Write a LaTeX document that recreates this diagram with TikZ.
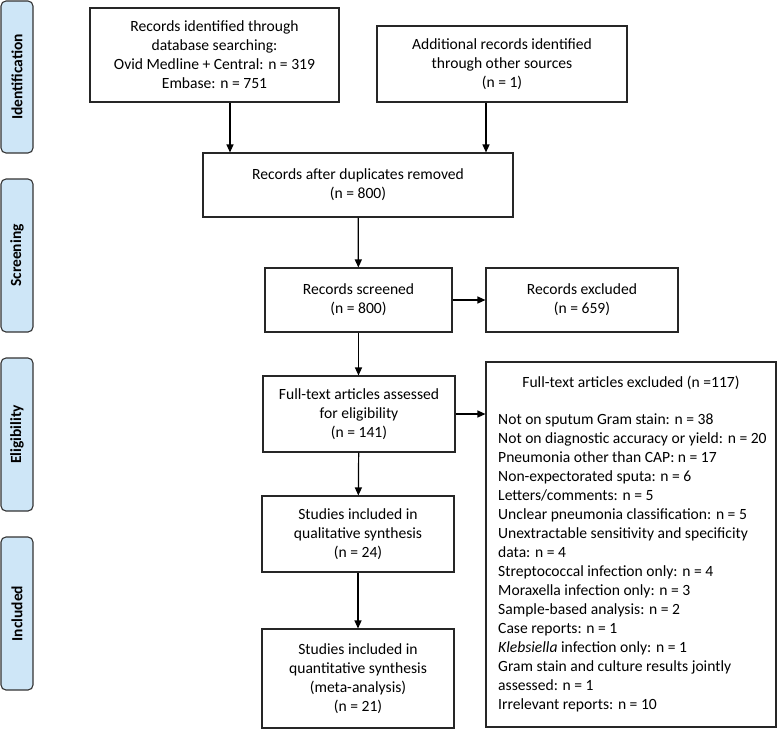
\documentclass[tikz,border=0pt]{standalone}
\usepackage{fontspec}
\setmainfont{Carlito}
\usetikzlibrary{arrows.meta}
\definecolor{phaseblue}{RGB}{206,230,247}

\begin{document}
\begin{tikzpicture}[x=1pt, y=-1pt,
                    stage/.style={rectangle, draw=black!85, line width=1.1pt, align=center},
                    phase/.style={rectangle, rounded corners=5pt, draw=black!80, line width=1.1pt,
                                  fill=phaseblue, rotate=90, minimum height=32pt,
                                  font=\fontsize{15.5}{18}\selectfont\bfseries},
                    >={Triangle[length=8pt, width=7pt]},
                    font=\fontsize{15.6}{19}\selectfont]
  \useasboundingbox (0, 0) rectangle (778, 729);

  % Phases.
  \node at (17, 77) [phase, minimum width=152pt, name=Identification] {Identification};
  \node at (17, 255.5) [phase, minimum width=153pt, name=Screening] {Screening};
  \node at (17, 434.5) [phase, minimum width=153pt, name=Eligibility] {Eligibility};
  \node at (17, 613.5) [phase, minimum width=153pt, name=Included] {Included};

  % Stages.
  \node at (214.5, 55) [stage, minimum width=249pt, minimum height=94pt, name=DatabaseRecords]
        {Records identified through\\database searching:\\Ovid Medline + Central: n = 319\\Embase: n = 751};
  \node at (502, 64) [stage, minimum width=250pt, minimum height=76pt, name=OtherRecords]
        {Additional records identified\\through other sources\\(n = 1)};
  \node at (358, 185) [stage, minimum width=310pt, minimum height=64pt, name=Deduplicated]
        {Records after duplicates removed\\(n = 800)};
  \node at (358.5, 300) [stage, minimum width=187pt, minimum height=64pt, name=Screened]
        {Records screened\\(n = 800)};
  \node at (582, 300) [stage, minimum width=192pt, minimum height=64pt, name=Excluded]
        {Records excluded\\(n = 659)};
  \node at (359, 414) [stage, minimum width=192pt, minimum height=76pt, name=FullText]
        {Full-text articles assessed\\for eligibility\\(n = 141)};
  \node at (358, 534) [stage, minimum width=192pt, minimum height=76pt, name=Qualitative]
        {Studies included in\\qualitative synthesis\\(n = 24)};
  \node at (358, 678.5) [stage, minimum width=192pt, minimum height=99pt, name=Quantitative]
        {Studies included in\\quantitative synthesis\\(meta-analysis)\\(n = 21)};
  \node at (631, 544.5) [stage, minimum width=290pt, minimum height=365pt, name=FullTextExcluded] {};
  \node at (631, 383) [name=ExcludedTitle] {Full-text articles excluded (n =117)};
  \node at (498, 414) [anchor=north west, align=left, inner sep=0pt, name=ExcludedReasons]
        {Not on sputum Gram stain: n = 38\\
         Not on diagnostic accuracy or yield: n = 20\\
         Pneumonia other than CAP: n = 17\\
         Non-expectorated sputa: n = 6\\
         Letters/comments: n = 5\\
         Unclear pneumonia classification: n = 5\\
         Unextractable sensitivity and specificity\\
         data: n = 4\\
         Streptococcal infection only: n = 4\\
         Moraxella infection only: n = 3\\
         Sample-based analysis: n = 2\\
         Case reports: n = 1\\
         \textit{Klebsiella} infection only: n = 1\\
         Gram stain and culture results jointly\\
         assessed: n = 1\\
         Irrelevant reports: n = 10};

  % Flow.
  \draw [->, line width=1.2pt] ([xshift=15.5pt]DatabaseRecords.south)
             -- ([xshift=15.5pt]DatabaseRecords.south |- Deduplicated.north);
  \draw [->, line width=1.2pt] ([xshift=-16pt]OtherRecords.south)
             -- ([xshift=-16pt]OtherRecords.south |- Deduplicated.north);
  \draw [->, line width=1.2pt] (Deduplicated) -- (Screened);
  \draw [->, line width=1.2pt] (Screened) -- (Excluded);
  \draw [->, line width=1.2pt] (Screened) -- (Screened |- FullText.north);
  \draw [->, line width=1.2pt] (FullText) -- (FullText -| FullTextExcluded.west);
  \draw [->, line width=1.2pt] (FullText) -- (Qualitative);
  \draw [->, line width=1.2pt] (Qualitative) -- (Quantitative);
\end{tikzpicture}
\end{document}
